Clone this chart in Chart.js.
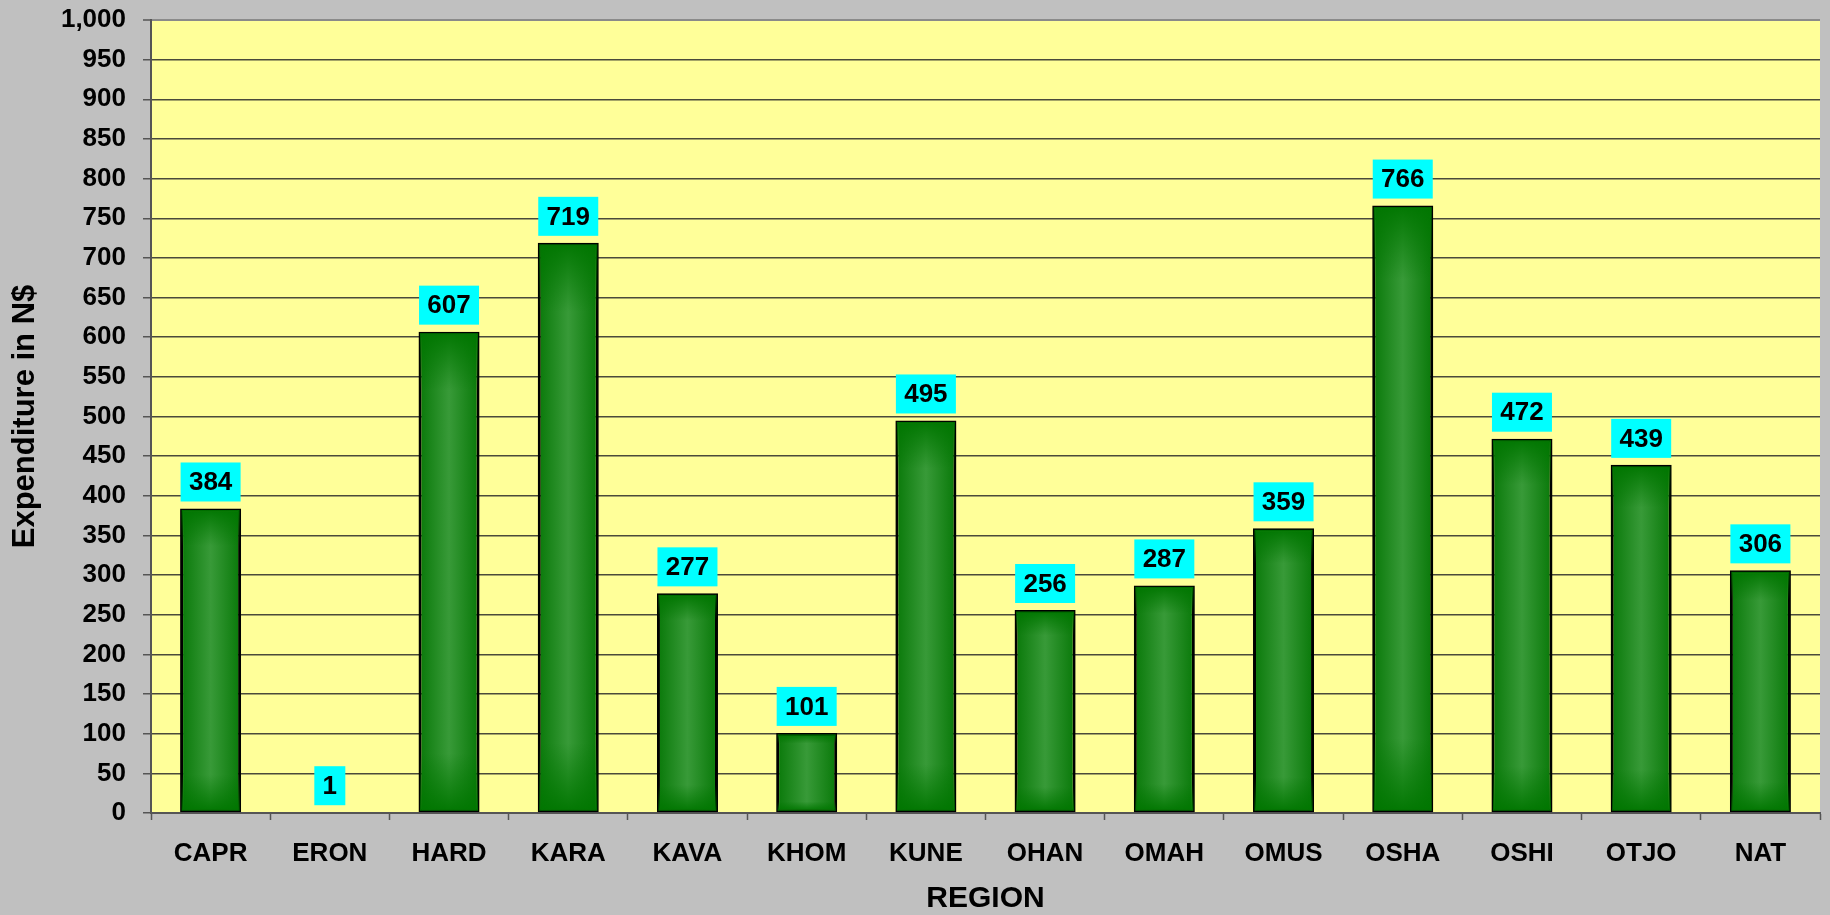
<!DOCTYPE html>
<html>
<head>
<meta charset="utf-8">
<script src="https://cdn.jsdelivr.net/npm/chart.js@4/dist/chart.umd.min.js"></script>
<style>
  html, body { margin: 0; padding: 0; background: #C0C0C0; }
  #wrap { width: 1830px; height: 915px; }
</style>
</head>
<body>
<div id="wrap"><canvas id="c" width="1830" height="915"></canvas></div>
<script>
const categories = ["CAPR", "ERON", "HARD", "KARA", "KAVA", "KHOM", "KUNE", "OHAN", "OMAH", "OMUS", "OSHA", "OSHI", "OTJO", "NAT"];
const values = [384, 1, 607, 719, 277, 101, 495, 256, 287, 359, 766, 472, 439, 306];
const yMin = 0, yMax = 1000, yStep = 50;
const yTitle = "Expenditure in N$";
const xTitle = "REGION";

const FONT = '"Liberation Sans", Arial, Helvetica, sans-serif';

const plotBg = {
  id: 'plotBg',
  beforeDraw(chart) {
    const { ctx, chartArea: a } = chart;
    ctx.save();
    ctx.fillStyle = '#C0C0C0';
    ctx.fillRect(0, 0, chart.width, chart.height);
    ctx.fillStyle = '#FFFF99';
    ctx.fillRect(a.left, a.top, a.right - a.left, a.bottom - a.top);
    ctx.restore();
  }
};

const barShade = {
  id: 'barShade',
  beforeDatasetsDraw(chart) {
    const ctx = chart.ctx;
    chart.getDatasetMeta(0).data.forEach(bar => {
      const l = bar.x - bar.width / 2, r = bar.x + bar.width / 2;
      const g = ctx.createLinearGradient(l, 0, r, 0);
      g.addColorStop(0, '#087808');
      g.addColorStop(0.5, '#389a38');
      g.addColorStop(1, '#087808');
      bar.options.backgroundColor = g;
    });
  },
  afterDatasetsDraw(chart) {
    const ctx = chart.ctx;
    const meta = chart.getDatasetMeta(0);
    ctx.save();
    meta.data.forEach(bar => {
      const top = Math.min(bar.y, bar.base), bot = Math.max(bar.y, bar.base);
      const h = bot - top;
      if (h < 8) return;
      const l = bar.x - bar.width / 2 + 1.5, w = bar.width - 3;
      const g = ctx.createLinearGradient(0, top + 1.5, 0, bot - 1.5);
      g.addColorStop(0, 'rgba(0,118,0,0.95)');
      g.addColorStop(0.12, 'rgba(0,118,0,0)');
      g.addColorStop(0.88, 'rgba(0,118,0,0)');
      g.addColorStop(1, 'rgba(0,118,0,0.95)');
      ctx.fillStyle = g;
      ctx.fillRect(l, top + 1.5, w, h - 3);
    });
    ctx.font = 'bold 26px ' + FONT;
    ctx.textAlign = 'center';
    ctx.textBaseline = 'middle';
    meta.data.forEach((bar, i) => {
      const txt = String(values[i]);
      const w = Math.round(ctx.measureText(txt).width + 17);
      const h = 39;
      const x = bar.x - w / 2;
      const y = bar.y - 7 - h;
      ctx.fillStyle = '#00FFFF';
      ctx.fillRect(x, y, w, h);
      ctx.fillStyle = '#000';
      ctx.fillText(txt, bar.x, y + h / 2 + 1);
    });
    ctx.restore();
  }
};

new Chart(document.getElementById('c'), {
  type: 'bar',
  data: {
    labels: categories,
    datasets: [{
      data: values,
      backgroundColor: () => '#1a8a1a',
      borderColor: '#000000',
      borderWidth: 3,
      borderSkipped: false,
      barPercentage: 1,
      categoryPercentage: 0.512
    }]
  },
  options: {
    responsive: false,
    animation: false,
    events: [],
    layout: { padding: { top: 20, right: 10, left: 0, bottom: 0 } },
    plugins: {
      legend: { display: false },
      tooltip: { enabled: false },
      title: { display: false }
    },
    scales: {
      x: {
        grid: {
          drawOnChartArea: false,
          drawTicks: true,
          tickLength: 7,
          tickColor: '#555555',
          tickWidth: 1.5,
          offset: true
        },
        border: { display: true, color: '#555555', width: 2 },
        ticks: {
          color: '#000',
          font: { family: FONT, size: 26, weight: 'bold' },
          padding: 18,
          maxRotation: 0,
          autoSkip: false
        },
        title: {
          display: true,
          text: xTitle,
          color: '#000',
          font: { family: FONT, size: 30, weight: 'bold', lineHeight: 1 },
          padding: { top: 0, bottom: 1 }
        },
        afterFit(s) { s.height = 102; s.paddingLeft = 0; s.paddingRight = 0; }
      },
      y: {
        min: yMin,
        max: yMax,
        grid: {
          color: (c) => (c.tick && c.tick.value === yMax) ? '#8a8a8a' : '#4a4a3a',
          lineWidth: (c) => (c.tick && c.tick.value === yMax) ? 2 : 1.5,
          drawTicks: true,
          tickLength: 8,
          tickColor: '#555555',
          tickWidth: 1.5
        },
        border: { display: true, color: '#555555', width: 2 },
        ticks: {
          stepSize: yStep,
          color: '#000',
          font: { family: FONT, size: 26, weight: 'bold' },
          padding: 17,
          callback: (v) => v.toLocaleString('en-US')
        },
        title: {
          display: true,
          text: yTitle,
          color: '#000',
          font: { family: FONT, size: 31, weight: 'bold', lineHeight: 1.2 },
          padding: { top: 7, bottom: 0 }
        },
        afterFit(s) { s.width = 151; s.paddingTop = 0; s.paddingBottom = 0; }
      }
    }
  },
  plugins: [plotBg, barShade]
});
</script>
</body>
</html>
